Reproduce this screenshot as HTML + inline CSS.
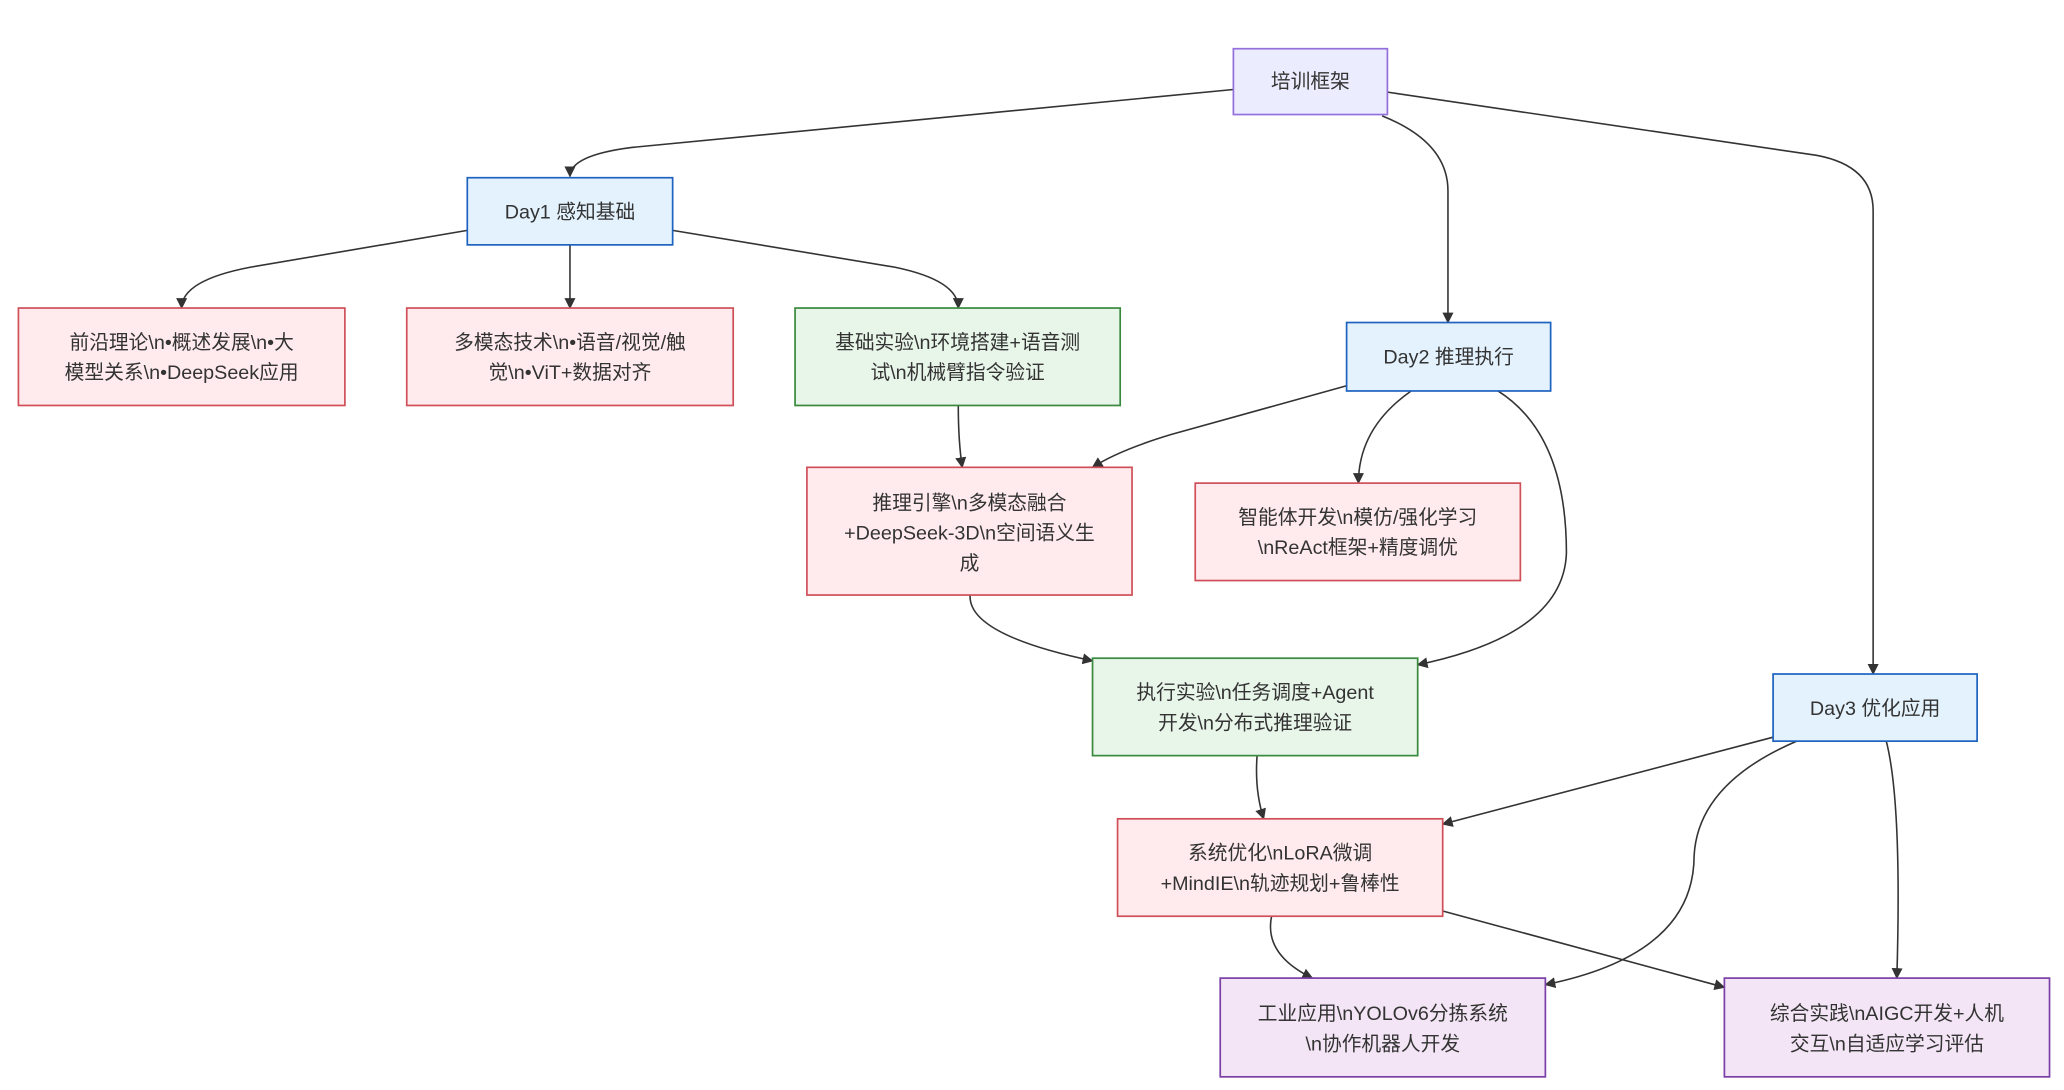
<!DOCTYPE html>
<html><head><meta charset="utf-8"><style>
html,body{margin:0;padding:0;background:#fff;width:2064px;height:1090px;overflow:hidden}
svg text{font-family:"Liberation Sans","Noto Sans CJK SC",sans-serif;font-size:15px;fill:#333;text-anchor:middle}
</style></head><body>
<svg width="2064" height="1090" viewBox="0 0 1568 828" preserveAspectRatio="none" xmlns="http://www.w3.org/2000/svg">
<defs><marker id="a" viewBox="0 0 10 10" refX="9" refY="5" markerWidth="7" markerHeight="7" orient="auto"><path d="M0,0L10,5L0,10z" fill="#333"/></marker></defs>
<g fill="none" stroke="#333" stroke-width="1.2" marker-end="url(#a)">
<path d="M937,68 L480,112 Q433,118 433,134"/>
<path d="M1050,88 Q1100,108 1100,145 L1100,245"/>
<path d="M1054,70 L1380,118 Q1423,126 1423,160 L1423,512"/>
<path d="M355,175 L190,203 Q138,213 138,234"/>
<path d="M433,186 L433,234"/>
<path d="M511,175 L680,203 Q728,213 728,234"/>
<path d="M728,308 Q728,335 731,355"/>
<path d="M1023,293 L890,330 Q850,342 830,355"/>
<path d="M1072,297 Q1032,325 1032,367"/>
<path d="M1138,297 Q1190,330 1190,420 Q1188,482 1077,505"/>
<path d="M737,452 Q735,482 830,502"/>
<path d="M955,574 Q953,600 960,622"/>
<path d="M1347,560 L1096,626"/>
<path d="M1365,563 Q1290,595 1287,650 Q1287,725 1174,748"/>
<path d="M1433,563 Q1445,610 1441,743"/>
<path d="M966,696 Q960,725 997,743"/>
<path d="M1096,692 L1310,750"/>
</g>
<g stroke-width="1.3">
<rect x="937" y="37" width="117" height="50" fill="#ECECFF" stroke="#9370DB"/>
<rect x="355" y="135" width="156" height="51" fill="#E3F2FD" stroke="#1E63C0"/>
<rect x="14" y="234" width="248" height="74" fill="#FFEBEE" stroke="#D0505A"/>
<rect x="309" y="234" width="248" height="74" fill="#FFEBEE" stroke="#D0505A"/>
<rect x="604" y="234" width="247" height="74" fill="#E8F5E9" stroke="#3A8A3E"/>
<rect x="1023" y="245" width="155" height="52" fill="#E3F2FD" stroke="#1E63C0"/>
<rect x="613" y="355" width="247" height="97" fill="#FFEBEE" stroke="#D0505A"/>
<rect x="908" y="367" width="247" height="74" fill="#FFEBEE" stroke="#D0505A"/>
<rect x="830" y="500" width="247" height="74" fill="#E8F5E9" stroke="#3A8A3E"/>
<rect x="1347" y="512" width="155" height="51" fill="#E3F2FD" stroke="#1E63C0"/>
<rect x="849" y="622" width="247" height="74" fill="#FFEBEE" stroke="#D0505A"/>
<rect x="927" y="743" width="247" height="75" fill="#F3E5F5" stroke="#7B3FA8"/>
<rect x="1310" y="743" width="247" height="75" fill="#F3E5F5" stroke="#7B3FA8"/>
</g>
<text x="995.5" y="67">培训框架</text>
<text x="433" y="166">Day1 感知基础</text>
<text x="138" y="265">前沿理论\n•概述发展\n•大</text>
<text x="138" y="288">模型关系\n•DeepSeek应用</text>
<text x="433" y="265">多模态技术\n•语音/视觉/触</text>
<text x="433" y="288">觉\n•ViT+数据对齐</text>
<text x="727.5" y="265">基础实验\n环境搭建+语音测</text>
<text x="727.5" y="288">试\n机械臂指令验证</text>
<text x="1100.5" y="276">Day2 推理执行</text>
<text x="736.5" y="387">推理引擎\n多模态融合</text>
<text x="736.5" y="410">+DeepSeek-3D\n空间语义生</text>
<text x="736.5" y="433">成</text>
<text x="1031.5" y="398">智能体开发\n模仿/强化学习</text>
<text x="1031.5" y="421">\nReAct框架+精度调优</text>
<text x="953.5" y="531">执行实验\n任务调度+Agent</text>
<text x="953.5" y="554">开发\n分布式推理验证</text>
<text x="1424.5" y="543">Day3 优化应用</text>
<text x="972.5" y="653">系统优化\nLoRA微调</text>
<text x="972.5" y="676">+MindIE\n轨迹规划+鲁棒性</text>
<text x="1050.5" y="775">工业应用\nYOLOv6分拣系统</text>
<text x="1050.5" y="798">\n协作机器人开发</text>
<text x="1433.5" y="775">综合实践\nAIGC开发+人机</text>
<text x="1433.5" y="798">交互\n自适应学习评估</text>
</svg>
</body></html>
